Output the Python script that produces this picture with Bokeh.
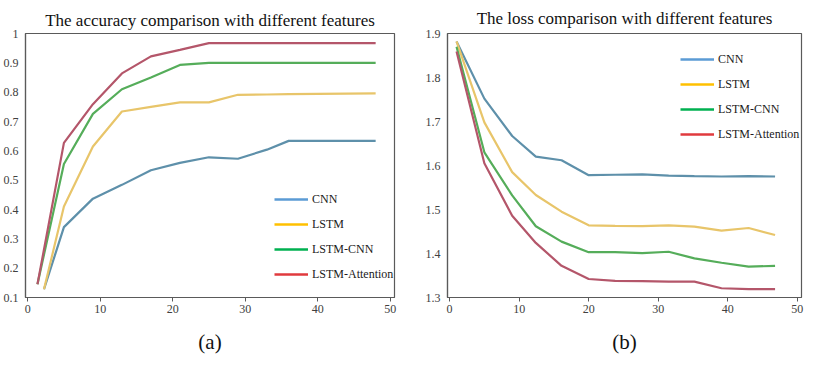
from bokeh.plotting import figure
from bokeh.models import Range1d, Legend, LegendItem, Title, FixedTicker
from bokeh.layouts import row
from bokeh.embed import file_html
from bokeh.resources import INLINE

series_names = ["CNN", "LSTM", "LSTM-CNN", "LSTM-Attention"]

# (a) accuracy
acc_x_early = [1.35, 5, 9, 13, 17, 21, 25, 29, 33, 36, 40, 44, 48]
acc_x_late = [2.25, 5, 9, 13, 17, 21, 25, 29, 33, 36, 40, 44, 48]
acc_cnn = [0.128, 0.34, 0.437, 0.484, 0.534, 0.559, 0.578, 0.573, 0.604, 0.634, 0.634, 0.634, 0.634]
acc_lstm = [0.128, 0.41, 0.615, 0.734, 0.75, 0.765, 0.765, 0.791, 0.792, 0.793, 0.794, 0.795, 0.796]
acc_lstm_cnn = [0.145, 0.555, 0.726, 0.81, 0.85, 0.893, 0.9, 0.9, 0.9, 0.9, 0.9, 0.9, 0.9]
acc_lstm_att = [0.145, 0.627, 0.759, 0.864, 0.922, 0.944, 0.967, 0.967, 0.967, 0.967, 0.967, 0.967, 0.967]

# (b) loss
loss_x = [1, 5, 9, 12.4, 16.1, 20, 23.8, 27.7, 31.5, 35.2, 39.1, 43, 46.8]
loss_cnn = [1.882, 1.752, 1.667, 1.62, 1.612, 1.578, 1.579, 1.58, 1.577, 1.576, 1.575, 1.576, 1.575]
loss_lstm = [1.882, 1.698, 1.585, 1.533, 1.495, 1.464, 1.463, 1.462, 1.464, 1.461, 1.452, 1.458, 1.442]
loss_lstm_cnn = [1.87, 1.63, 1.532, 1.462, 1.427, 1.403, 1.403, 1.401, 1.404, 1.389, 1.379, 1.370, 1.372]
loss_lstm_att = [1.859, 1.605, 1.486, 1.424, 1.372, 1.342, 1.338, 1.337, 1.336, 1.336, 1.321, 1.319, 1.319]

x_ticks = [0, 10, 20, 30, 40, 50]
acc_ticks = [0.1, 0.2, 0.3, 0.4, 0.5, 0.6, 0.7, 0.8, 0.9, 1.0]
loss_ticks = [1.3, 1.4, 1.5, 1.6, 1.7, 1.8, 1.9]

line_colors = ["#5e90aa", "#e8c56a", "#55ad5a", "#b4566a"]
legend_colors = ["#5b9bd5", "#ffc000", "#00b050", "#e03a3e"]

FONT = "Liberation Serif"
AXIS_COL = "#5a5a5a"
NAN = float("nan")


def make_fig(width, height, borders, title, title_standoff, caption, cap_offset, yr, yticks):
    left, right, top, bottom = borders
    p = figure(width=width, height=height, output_backend="svg", toolbar_location=None,
               x_range=Range1d(-0.3, 50.6), y_range=Range1d(*yr),
               min_border_left=left, min_border_right=right,
               min_border_top=top, min_border_bottom=bottom)
    p.title.text = title
    p.title.text_font = FONT
    p.title.text_font_size = "17px"
    p.title.text_font_style = "normal"
    p.title.text_color = "#111111"
    p.title.align = "center"
    p.title.standoff = title_standoff
    # spacer between the x-axis and the caption
    p.add_layout(Title(text=" ", text_font_size="9px", standoff=0), "below")
    p.add_layout(Title(text=caption, align="center", text_font=FONT,
                       text_font_size="21px", text_font_style="normal",
                       text_color="#111111", offset=cap_offset, standoff=0), "below")
    p.grid.visible = False
    p.outline_line_color = AXIS_COL
    p.outline_line_width = 1.2
    p.background_fill_color = "white"
    p.border_fill_color = "white"
    for ax in (p.xaxis[0], p.yaxis[0]):
        ax.axis_line_color = AXIS_COL
        ax.axis_line_width = 1.2
        ax.major_label_text_font = FONT
        ax.major_label_text_font_size = "12px"
        ax.major_label_text_color = "#404040"
        ax.minor_tick_line_color = None
    p.xaxis[0].ticker = FixedTicker(ticks=x_ticks)
    p.xaxis[0].major_tick_out = 4
    p.xaxis[0].major_tick_in = 0
    p.xaxis[0].major_tick_line_color = AXIS_COL
    p.xaxis[0].major_label_standoff = 3
    p.yaxis[0].ticker = FixedTicker(ticks=yticks)
    p.yaxis[0].major_tick_out = 0
    p.yaxis[0].major_tick_in = 0
    p.yaxis[0].major_tick_line_color = None
    p.yaxis[0].major_label_standoff = 7
    p.yaxis[0].formatter.use_scientific = False
    return p


def add_legend(p, loc):
    items = []
    for name, col in zip(series_names, legend_colors):
        r = p.line(x=[NAN], y=[NAN], line_color=col, line_width=2.5)
        items.append(LegendItem(label=name, renderers=[r]))
    lg = Legend(items=items, location=loc, glyph_width=34, glyph_height=20,
                label_height=20, spacing=5, padding=0, margin=0,
                label_standoff=4, label_text_font=FONT, label_text_font_size="12px",
                label_text_color="#1a1a1a", border_line_color=None,
                background_fill_alpha=0)
    p.add_layout(lg, "center")


p1 = make_fig(410, 354, (21, 16, 25, 56),
              "The accuracy comparison with different features", 8, "(a)", -14,
              (0.1, 1.0), acc_ticks)
for xs, ys, col in [(acc_x_late, acc_cnn, line_colors[0]),
                    (acc_x_late, acc_lstm, line_colors[1]),
                    (acc_x_early, acc_lstm_cnn, line_colors[2]),
                    (acc_x_early, acc_lstm_att, line_colors[3])]:
    p1.line(x=xs, y=ys, line_color=col, line_width=2.2)
add_legend(p1, (249, 13))

p2 = make_fig(399, 354, (37, 8, 29, 57),
              "The loss comparison with different features", 12, "(b)", 2,
              (1.3, 1.9), loss_ticks)
for ys, col in zip([loss_cnn, loss_lstm, loss_lstm_cnn, loss_lstm_att], line_colors):
    p2.line(x=loss_x, y=ys, line_color=col, line_width=2.2)
add_legend(p2, (233, 153))

layout = row(p1, p2)
open("out.html", "w").write(file_html(layout, INLINE))
